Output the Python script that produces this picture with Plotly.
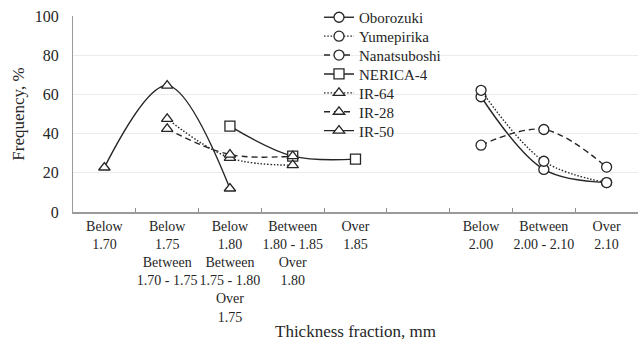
import plotly.graph_objects as go

categories = [
    "Below<br>1.70",
    "Below<br>1.75<br>Between<br>1.70 - 1.75",
    "Below<br>1.80<br>Between<br>1.75 - 1.80<br>Over<br>1.75",
    "Between<br>1.80 - 1.85<br>Over<br>1.80",
    "Over<br>1.85",
    " ",
    "Below<br>2.00",
    "Between<br>2.00 - 2.10",
    "Over<br>2.10",
]

oborozuki_x = [categories[6], categories[7], categories[8]]
oborozuki_y = [58.8, 21.7, 15.0]
yumepirika_x = [categories[6], categories[7], categories[8]]
yumepirika_y = [62.1, 25.9, 15.0]
nanatsuboshi_x = [categories[6], categories[7], categories[8]]
nanatsuboshi_y = [34.1, 42.1, 22.9]
nerica_x = [categories[2], categories[3], categories[4]]
nerica_y = [43.8, 28.5, 27.0]
ir64_x = [categories[1], categories[2], categories[3]]
ir64_y = [47.5, 27.6, 23.9]
ir28_x = [categories[1], categories[2], categories[3]]
ir28_y = [42.4, 29.3, 28.5]
ir50_x = [categories[0], categories[1], categories[2]]
ir50_y = [22.7, 64.5, 12.0]

FONT = "Liberation Serif"
INK = "#262626"
LINE = "#262626"
DOT = "1.5px,1.8px"
DASH = "6px,4px"

series = [
    ("Oborozuki", oborozuki_x, oborozuki_y, "solid", "circle"),
    ("Yumepirika", yumepirika_x, yumepirika_y, DOT, "circle"),
    ("Nanatsuboshi", nanatsuboshi_x, nanatsuboshi_y, DASH, "circle"),
    ("NERICA-4", nerica_x, nerica_y, "solid", "square"),
    ("IR-64", ir64_x, ir64_y, DOT, "triangle-up"),
    ("IR-28", ir28_x, ir28_y, DASH, "triangle-up"),
    ("IR-50", ir50_x, ir50_y, "solid", "triangle-up"),
]

# layout geometry (pixels)
W, H = 638, 341
ML, MR, MT, MB = 73, 0, 16, 129
PW, PH = W - ML - MR, H - MT - MB
LEG_X_PX = 319
LEG_ROW0_PX = 17.5
LEG_ROW_STEP = 18.9

fig = go.Figure()
legends = {}
for i, (name, xs, ys, dash, sym) in enumerate(series):
    lname = "legend" if i == 0 else f"legend{i + 1}"
    fig.add_trace(go.Scatter(
        x=xs, y=ys, name=name, mode="lines+markers", legend=lname,
        line=dict(color=LINE, width=1.4, dash=dash, shape="spline", smoothing=1),
        marker=dict(symbol=sym, size=10, color="white",
                    line=dict(color=LINE, width=1.3)),
    ))
    cy = LEG_ROW0_PX + i * LEG_ROW_STEP
    legends[lname] = dict(
        x=(LEG_X_PX - ML) / PW, y=(H - MB - cy) / PH,
        xanchor="left", yanchor="middle",
        bgcolor="rgba(0,0,0,0)", borderwidth=0,
        font=dict(family=FONT, size=15, color=INK),
        itemwidth=30,
    )

fig.update_layout(
    width=W, height=H,
    margin=dict(l=ML, r=MR, t=MT, b=MB),
    paper_bgcolor="white", plot_bgcolor="white",
    font=dict(family=FONT, size=14, color=INK),
    showlegend=True,
    **legends,
    shapes=[dict(type="rect", xref="paper", yref="paper", layer="between",
                 x0=(310 - ML) / PW, x1=(457 - ML) / PW,
                 y0=(H - MB - 142) / PH, y1=(H - MB - 4) / PH,
                 fillcolor="white", line=dict(width=0))],
    xaxis=dict(
        type="category", categoryorder="array", categoryarray=categories,
        range=[-0.5, 8.5], automargin=False, tickangle=0,
        tickmode="array", tickvals=categories, ticktext=categories,
        tickson="boundaries", ticks="inside", ticklen=4, tickcolor="#8c8c8c",
        showline=True, linecolor="#9a9a9a", linewidth=1.5,
        showgrid=False, zeroline=False,
        tickfont=dict(family=FONT, size=14, color=INK),
        title=dict(text="Thickness fraction, mm",
                   font=dict(family=FONT, size=17, color=INK), standoff=4),
    ),
    yaxis=dict(
        range=[0, 100], tickvals=[0, 20, 40, 60, 80, 100], automargin=False,
        showline=True, linecolor="#9a9a9a", linewidth=1.2,
        showgrid=True, gridcolor="#ebebeb", gridwidth=1,
        zeroline=False, ticks="", ticklabelstandoff=10,
        tickfont=dict(family=FONT, size=16, color=INK),
        title=dict(text="Frequency, %",
                   font=dict(family=FONT, size=17, color=INK), standoff=5),
    ),
)

fig.write_html("out.html")
